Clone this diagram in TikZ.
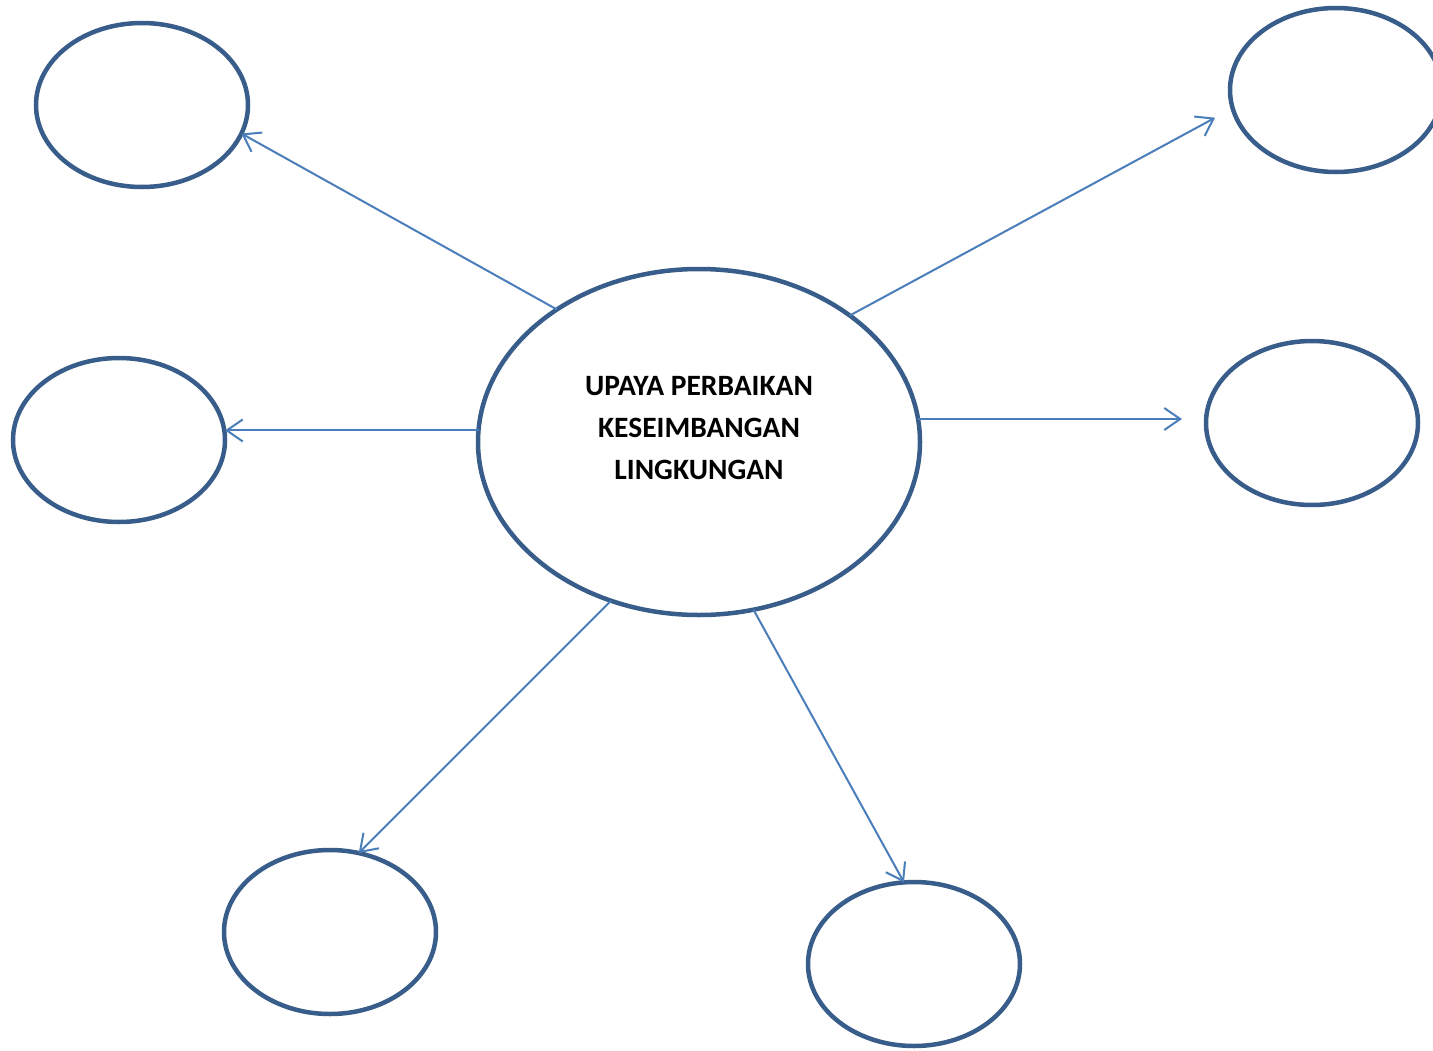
\documentclass[tikz,border=0pt]{standalone}
\usepackage{fontspec}
\setmainfont{Carlito}
\usetikzlibrary{arrows.meta,shapes.geometric}
\definecolor{ringblue}{HTML}{385D8A}
\definecolor{arrowblue}{HTML}{4A7EBB}
\begin{document}
\begin{tikzpicture}[x=1pt,y=-1pt,
  ring/.style={ellipse, draw=ringblue, line width=4.5pt, outer sep=0pt, inner sep=0pt,
    minimum width=212pt, minimum height=164pt},
  bigring/.style={ring, minimum width=442pt, minimum height=346pt},
  link/.style={draw=arrowblue, line width=2pt, -{Straight Barb[length=16pt,width=22pt,line width=2pt]}},
  title/.style={align=center, font=\fontsize{29.5}{42}\selectfont\bfseries}
]
\useasboundingbox (0,0) rectangle (1433,1050);
\node[bigring] (c) at (699,442) {};
\node[title] (t) at (699,428) {UPAYA PERBAIKAN\\KESEIMBANGAN\\LINGKUNGAN};
\node[ring] (tl) at (142,105) {};
\node[ring] (ml) at (119,440) {};
\node[ring] (bl) at (330,932) {};
\node[ring] (bm) at (914,964) {};
\node[ring] (r) at (1312,423) {};
\node[ring] (tr) at (1336,90) {};
\draw[link] (c.137.5) -- (tl.-16);
\draw[link] (c.177.4) -- (c.177.4 -| ml.east);
\draw[link] (c.241.7) -- (bl.70.95);
\draw[link] (c.288.1) -- (bm.97.5);
\draw[link, shorten >=24pt] (c.6.45) -- (c.6.45 -| r.west);
\draw[link, shorten >=20pt] (c.40.5) -- (tr.190);
\end{tikzpicture}
\end{document}
